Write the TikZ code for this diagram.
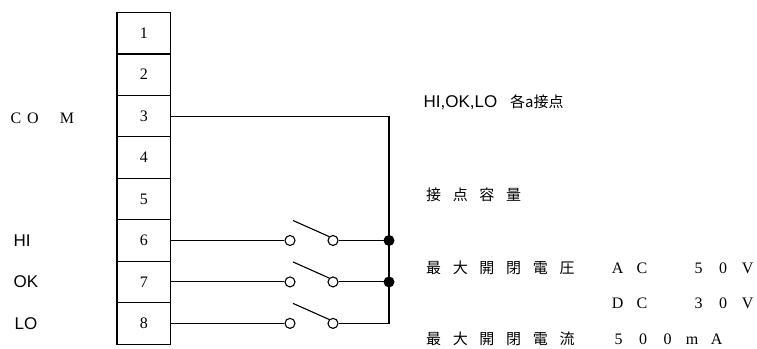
\documentclass[tikz,border=0pt]{standalone}
\usepackage{fontspec}
\setmainfont{Liberation Serif}
\newfontfamily\gothic{Liberation Sans}
\newfontfamily\jfont{Noto Sans CJK JP}
\newcommand\jc[1]{\makebox[26.7bp]{#1}}
\newcommand\lc[1]{\makebox[24.5bp]{#1}}

\begin{document}
\begin{tikzpicture}[x=1bp,y=-1bp,line width=1.1bp,
  cell/.style={draw,rectangle,minimum width=53.5bp,minimum height=41.45bp,inner sep=0pt,font=\fontsize{16bp}{19bp}\selectfont},
  contact/.style={draw,circle,fill=white,minimum size=10bp,inner sep=0pt},
  junction/.style={circle,fill=black,minimum size=11bp,inner sep=0pt},
  sig/.style={anchor=west,inner sep=0pt,font=\gothic\fontsize{17bp}{20bp}\selectfont},
  note/.style={anchor=west,inner sep=0pt,font=\jfont\fontsize{15bp}{18bp}\selectfont},
  val/.style={anchor=west,inner sep=0pt,font=\fontsize{16bp}{19bp}\selectfont}]
\useasboundingbox (0,0) rectangle (757,348);
% terminal block
\foreach \i in {1,...,8}
  \node [cell] (t\i) at (143.75,{12.5+41.45*(\i-0.5)}) {\i};
\node [val] (com) at (10,118) {C\hspace{6bp}O\hspace{21bp}M};
\node [sig] (hi) at (13,240.5) {HI};
\node [sig] (ok) at (13,282) {OK};
\node [sig] (lo) at (14,323.4) {LO};
% contacts
\coordinate (bus) at (389,0);
\foreach \r in {6,7,8} {
  \node [contact] (a\r) at (290,{12.5+41.45*(\r-0.5)}) {};
  \node [contact] (b\r) at (333,{12.5+41.45*(\r-0.5)}) {};
  \draw (t\r.east) -- (a\r);
  \draw ([shift={(3,-20)}]a\r.center) -- (b\r.north west);
}
\draw (t3.east) -- (t3.east -| bus) -- (b8 -| bus) -- (b8);
\draw (b6) -- (b6 -| bus);
\draw (b7) -- (b7 -| bus);
\node [junction] (j6) at (b6 -| bus) {};
\node [junction] (j7) at (b7 -| bus) {};
% ratings
\node [note] (kind) at (423,102) {{\gothic\fontsize{17bp}{20bp}\selectfont HI,OK,LO}\hspace{13bp}各a接点};
\node [note] (cap) at (419.7,195) {\jc{接}\jc{点}\jc{容}\jc{量}};
\node [note] (vmax) at (419.7,268) {\jc{最}\jc{大}\jc{開}\jc{閉}\jc{電}\jc{圧}};
\node [note] (imax) at (419.7,339) {\jc{最}\jc{大}\jc{開}\jc{閉}\jc{電}\jc{流}};
\node [val] (ac) at (604.75,268) {\lc{A}\lc{C}};
\node [val] (acv) at (685.75,268) {\lc{5}\lc{0}\lc{V}};
\node [val] (dc) at (604.75,303) {\lc{D}\lc{C}};
\node [val] (dcv) at (685.75,303) {\lc{3}\lc{0}\lc{V}};
\node [val] (ima) at (605.75,339) {\lc{5}\lc{0}\lc{0}\lc{m}\lc{A}};
\end{tikzpicture}
\end{document}
